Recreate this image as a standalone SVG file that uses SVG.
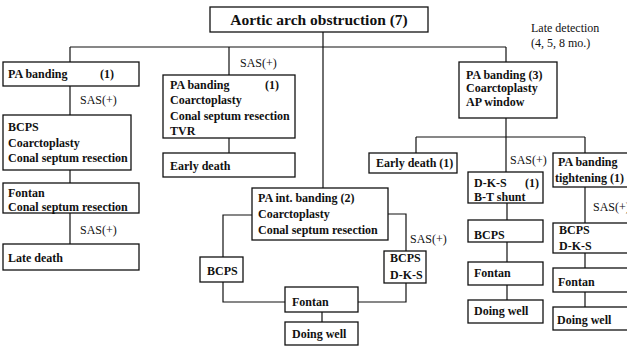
<svg xmlns="http://www.w3.org/2000/svg" width="627" height="347" viewBox="0 0 627 347">
<style>
.b{fill:#fff;stroke:#111;stroke-width:1.3}
.l{fill:none;stroke:#111;stroke-width:1.2}
text{font-family:"Liberation Serif","Times New Roman",serif;fill:#111}
.t{font-size:12px;font-weight:bold}
.s{font-size:12px}
.h{font-size:15.5px;font-weight:bold}
</style>
<rect width="627" height="347" fill="#fff"/>
<g id="connectors">
<path class="l" d="M323 32V188M70 47H506M70 47V62M229 47V75M506 47V62"/>
<path class="l" d="M70 86V115M70 170V183M70 213V244"/>
<path class="l" d="M229 138V153"/>
<path class="l" d="M506 118V137M416 137H585M416 137V153M506 137V172M585 137V153"/>
<path class="l" d="M507 203V220M507 242V262M507 285V300"/>
<path class="l" d="M585 187V223M585 253V268M585 292V307"/>
<path class="l" d="M252 215H223V257M223 282V302H285M388 214H406V251M406 283V302H358M322 312V322"/>
</g>
<g id="labels">
<text class="s" x="80" y="104">SAS(+)</text>
<text class="s" x="80" y="234">SAS(+)</text>
<text class="s" x="240" y="67">SAS(+)</text>
<text class="s" x="410" y="243">SAS(+)</text>
<text class="s" x="510" y="164">SAS(+)</text>
<text class="s" x="593" y="211">SAS(+)</text>
<text class="s" x="531" y="32">Late detection</text>
<text class="s" x="531" y="47">(4, 5, 8 mo.)</text>
</g>
<g id="root"><rect class="b" x="210" y="7" width="218" height="25"/><text class="h" x="319" y="25" text-anchor="middle">Aortic arch obstruction (7)</text></g>
<g id="l1"><rect class="b" x="3" y="62" width="136" height="24"/><text class="t" x="8" y="78">PA banding</text><text class="t" x="100" y="78">(1)</text></g>
<g id="l2"><rect class="b" x="3" y="115" width="128" height="55"/><text class="t" x="8" y="131">BCPS</text><text class="t" x="8" y="147">Coarctoplasty</text><text class="t" x="8" y="162">Conal septum resection</text></g>
<g id="l3"><rect class="b" x="3" y="183" width="136" height="30"/><text class="t" x="8" y="197">Fontan</text><text class="t" x="8" y="211">Conal septum resection</text></g>
<g id="l4"><rect class="b" x="3" y="244" width="136" height="26"/><text class="t" x="8" y="262">Late death</text></g>
<g id="m1"><rect class="b" x="163" y="75" width="132" height="63"/><text class="t" x="170" y="89">PA banding</text><text class="t" x="265" y="89">(1)</text><text class="t" x="170" y="104">Coarctoplasty</text><text class="t" x="170" y="120">Conal septum resection</text><text class="t" x="170" y="135">TVR</text></g>
<g id="m2"><rect class="b" x="163" y="153" width="132" height="24"/><text class="t" x="170" y="170">Early death</text></g>
<g id="c1"><rect class="b" x="252" y="188" width="136" height="52"/><text class="t" x="258" y="202">PA int. banding (2)</text><text class="t" x="258" y="218">Coarctoplasty</text><text class="t" x="258" y="234">Conal septum resection</text></g>
<g id="c2"><rect class="b" x="200" y="257" width="43" height="25"/><text class="t" x="207" y="275">BCPS</text></g>
<g id="c3"><rect class="b" x="384" y="251" width="42" height="32"/><text class="t" x="390" y="262">BCPS</text><text class="t" x="390" y="279">D-K-S</text></g>
<g id="c4"><rect class="b" x="285" y="287" width="73" height="25"/><text class="t" x="292" y="306">Fontan</text></g>
<g id="c5"><rect class="b" x="285" y="322" width="73" height="23"/><text class="t" x="292" y="338">Doing well</text></g>
<g id="r1"><rect class="b" x="459" y="62" width="98" height="56"/><text class="t" x="466" y="79">PA banding  (3)</text><text class="t" x="466" y="92">Coarctoplasty</text><text class="t" x="466" y="106">AP window</text></g>
<g id="r2"><rect class="b" x="369" y="153" width="88" height="20"/><text class="t" x="376" y="167">Early death (1)</text></g>
<g id="r3"><rect class="b" x="468" y="172" width="75" height="31"/><text class="t" x="474" y="187">D-K-S</text><text class="t" x="525" y="187">(1)</text><text class="t" x="474" y="201">B-T shunt</text></g>
<g id="r4"><rect class="b" x="468" y="220" width="75" height="22"/><text class="t" x="474" y="239">BCPS</text></g>
<g id="r5"><rect class="b" x="468" y="262" width="75" height="23"/><text class="t" x="474" y="277">Fontan</text></g>
<g id="r6"><rect class="b" x="468" y="300" width="75" height="23"/><text class="t" x="474" y="315">Doing well</text></g>
<g id="f1"><rect class="b" x="553" y="153" width="90" height="34"/><text class="t" x="558" y="166">PA banding</text><text class="t" x="555" y="182">tightening (1)</text></g>
<g id="f2"><rect class="b" x="553" y="223" width="90" height="30"/><text class="t" x="559" y="234">BCPS</text><text class="t" x="559" y="250">D-K-S</text></g>
<g id="f3"><rect class="b" x="553" y="268" width="90" height="24"/><text class="t" x="558" y="286">Fontan</text></g>
<g id="f4"><rect class="b" x="553" y="307" width="90" height="23"/><text class="t" x="557" y="324">Doing well</text></g>
</svg>
